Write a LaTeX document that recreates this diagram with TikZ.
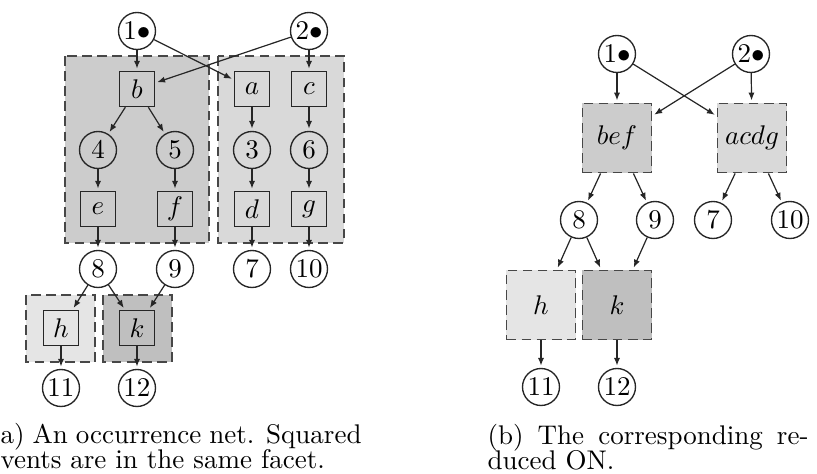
\documentclass[tikz,border=0pt]{standalone}
\usetikzlibrary{arrows.meta}
\tikzset{
  place/.style={circle, draw=black!85, line width=0.5pt, minimum size=13.7pt, inner sep=0pt},
  trans/.style={rectangle, draw=black!85, line width=0.5pt, minimum size=13pt, inner sep=0pt},
  facet/.style={draw=black!72, line width=0.65pt, dash pattern=on 3.6pt off 2pt},
  redbox/.style={rectangle, facet, minimum size=25.6pt, inner sep=0pt},
  arr/.style={-{Latex[length=2.9pt,width=2.3pt]}, draw=black!85, line width=0.45pt, shorten >=0.8pt},
  capt/.style={anchor=base west, inner sep=0pt, font=\fontsize{10}{12}\selectfont}
}
\begin{document}
\begin{tikzpicture}[x=0.37037pt, y=-0.37037pt]
\useasboundingbox (0,0) rectangle (817,474);
% ---------- (a) facets ----------
\path[facet, fill=black!20] (65,56) rectangle (209,243);
\path[facet, fill=black!15] (218,56) rectangle (344,243);
\path[facet, fill=black!10] (26,295) rectangle (95,362);
\path[facet, fill=black!25] (103,295) rectangle (172,362);
% ---------- (a) nodes ----------
\node[place] (n1) at (137,31) {$1{\bullet}$};
\node[place] (n2) at (309,31) {$2{\bullet}$};
\node[trans] (b) at (137,89) {$b$};
\node[trans] (a) at (252,89) {$a$};
\node[trans] (c) at (309,89) {$c$};
\node[place] (n4) at (98,150) {$4$};
\node[place] (n5) at (175,150) {$5$};
\node[place] (n3) at (252,150) {$3$};
\node[place] (n6) at (309,150) {$6$};
\node[trans] (e) at (98,209) {$e$};
\node[trans] (f) at (175,209) {$f$};
\node[trans] (d) at (252,209) {$d$};
\node[trans] (g) at (309,209) {$g$};
\node[place] (n8) at (98,269) {$8$};
\node[place] (n9) at (175,269) {$9$};
\node[place] (n7) at (252,269) {$7$};
\node[place] (n10) at (309,269) {$10$};
\node[trans] (h) at (61,328) {$h$};
\node[trans] (k) at (137,328) {$k$};
\node[place] (n11) at (61,388) {$11$};
\node[place] (n12) at (137,388) {$12$};
% ---------- (a) arcs ----------
\draw[arr] (n1) -- (b);
\draw[arr] (n1) -- (a);
\draw[arr] (n2) -- (b);
\draw[arr] (n2) -- (c);
\draw[arr] (b) -- (n4);
\draw[arr] (b) -- (n5);
\draw[arr] (a) -- (n3);
\draw[arr] (c) -- (n6);
\draw[arr] (n4) -- (e);
\draw[arr] (n5) -- (f);
\draw[arr] (n3) -- (d);
\draw[arr] (n6) -- (g);
\draw[arr] (e) -- (n8);
\draw[arr] (f) -- (n9);
\draw[arr] (d) -- (n7);
\draw[arr] (g) -- (n10);
\draw[arr] (n8) -- (h);
\draw[arr] (n8) -- (k);
\draw[arr] (n9) -- (k);
\draw[arr] (h) -- (n11);
\draw[arr] (k) -- (n12);
% ---------- (b) nodes ----------
\node[place] (r1) at (617,54) {$1{\bullet}$};
\node[place] (r2) at (751,54) {$2{\bullet}$};
\node[redbox, fill=black!20] (bef) at (617,138) {$bef$};
\node[redbox, fill=black!15] (acdg) at (752,138) {$acdg$};
\node[place] (r8) at (579,220) {$8$};
\node[place] (r9) at (655,220) {$9$};
\node[place] (r7) at (713,220) {$7$};
\node[place] (r10) at (790,220) {$10$};
\node[redbox, fill=black!10] (rh) at (541,305) {$h$};
\node[redbox, fill=black!25] (rk) at (617,305) {$k$};
\node[place] (r11) at (541,387) {$11$};
\node[place] (r12) at (617,387) {$12$};
% ---------- (b) arcs ----------
\draw[arr] (r1) -- (bef);
\draw[arr] (r1) -- (acdg);
\draw[arr] (r2) -- (bef);
\draw[arr] (r2) -- (acdg);
\draw[arr] (bef) -- (r8);
\draw[arr] (bef) -- (r9);
\draw[arr] (acdg) -- (r7);
\draw[arr] (acdg) -- (r10);
\draw[arr] (r8) -- (rh);
\draw[arr] (r8) -- (rk);
\draw[arr] (r9) -- (rk);
\draw[arr] (rh) -- (r11);
\draw[arr] (rk) -- (r12);
% ---------- captions ----------
\node[capt] (capa1) at (0,444) {\hbox to 133.7pt{a) An occurrence net. Squared}};
\node[capt] (capa2) at (0,469) {vents are in the same facet.};
\node[capt] (capb1) at (487,445) {\hbox to 118.9pt{(b) The corresponding re-}};
\node[capt] (capb2) at (487,470) {duced ON.};
\end{tikzpicture}
\end{document}
